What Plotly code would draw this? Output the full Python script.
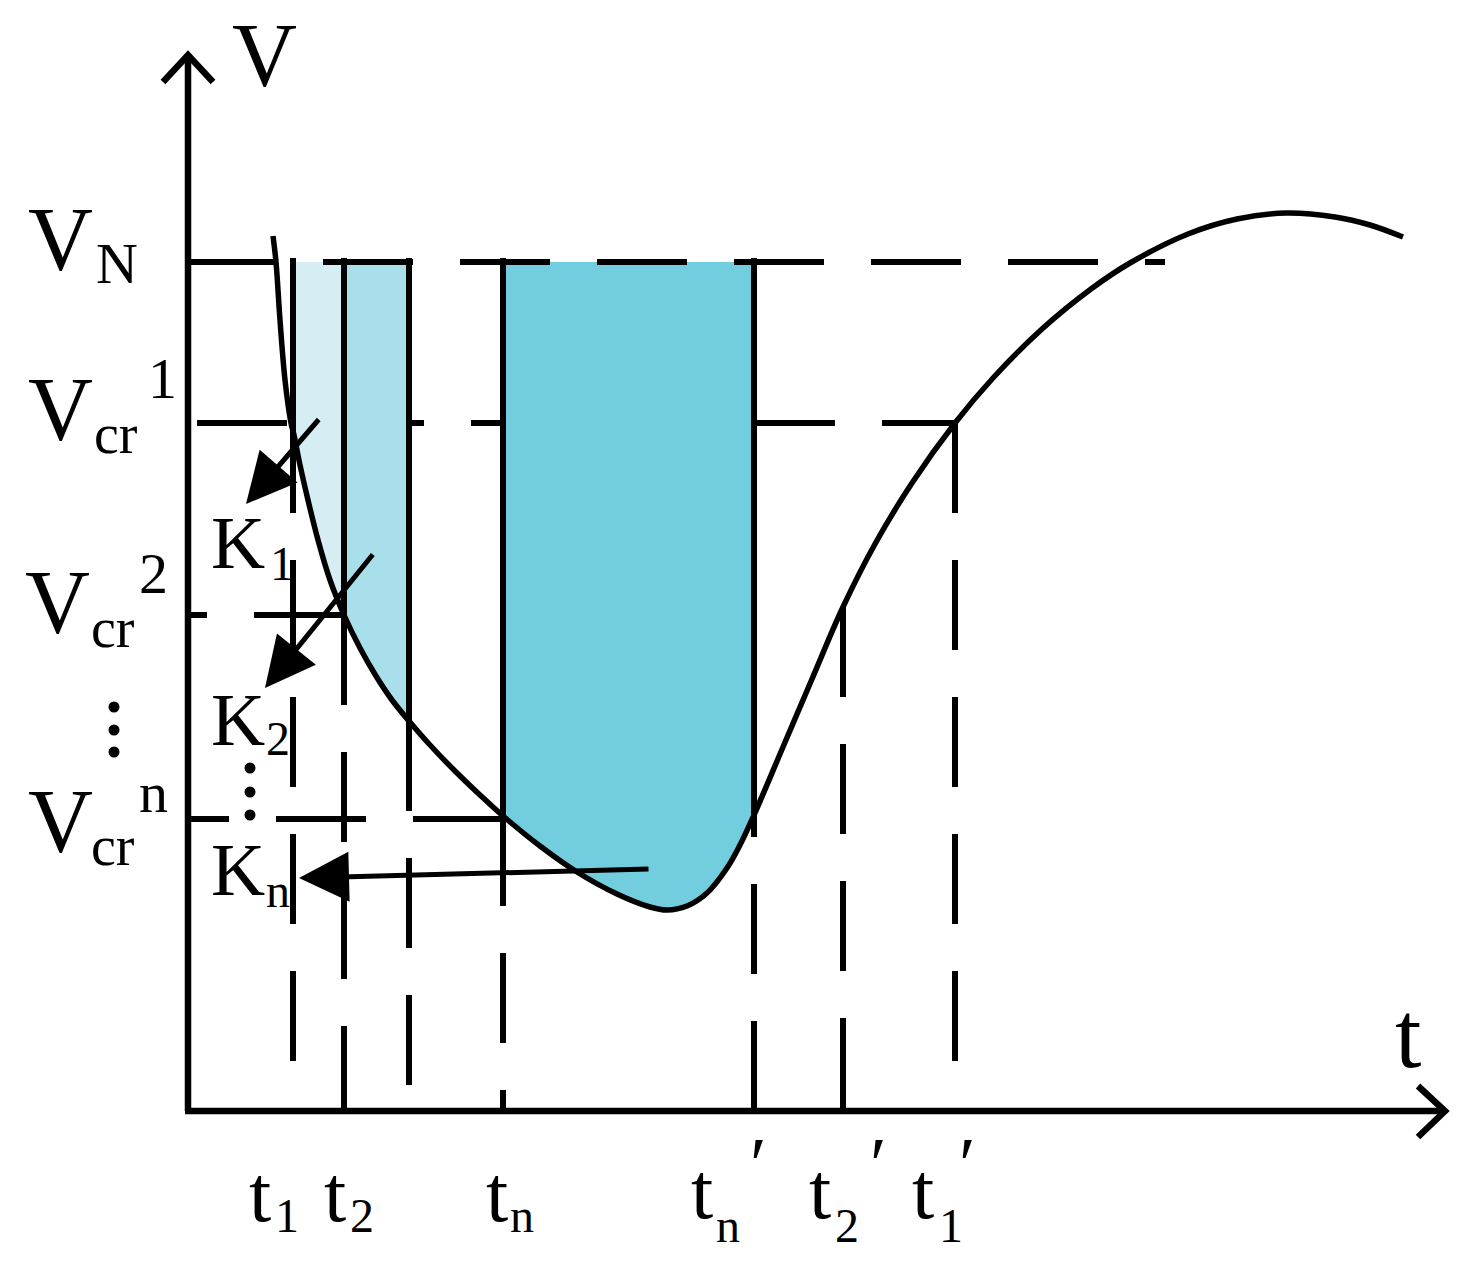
import numpy as np
import plotly.graph_objects as go

W, H = 1466, 1264

# marks on the t axis (px from left) and speed levels (px from top)
t_pos = [293, 344, 409, 503, 754, 843, 955]      # t1, t2, (t3), tn, tn', t2', t1'
v_pos = [262, 423, 615, 819]                      # VN, Vcr1, Vcr2, Vcrn
axis_x = 188       # V axis
axis_y = 1111      # t axis

# speed curve V(t)
curve_t = [273, 276, 280, 285, 291, 294, 300, 308, 318, 330, 344, 360, 376, 392,
           409, 430, 455, 480, 503, 540, 577, 617, 650, 667, 687, 707, 727, 740,
           754, 783, 812, 843, 875, 912, 955, 993, 1042, 1091, 1130, 1188, 1237,
           1286, 1335, 1370, 1403]
curve_v = [236, 262, 320, 380, 423, 435, 465, 500, 540, 580, 615, 648, 676, 700,
           721, 745, 771, 795, 816, 846, 872, 894, 907, 910, 906, 893, 868, 845,
           815, 747, 679, 607, 544, 483, 423, 378, 329, 289, 263, 234, 219,
           213, 217, 225, 237]

# shaded windows [t_start, t_end] below VN
shade_bands = [(293, 344), (344, 409), (503, 754)]
shade_colors = ["#d6eef3", "#a8dfea", "#72cddf"]

# K arrows: tail -> head
arrow_tail = [(320, 418), (374, 553), (650, 869)]
arrow_head = [(246, 504), (265, 688), (299, 878)]

DASH = "90px,47px"
FONT = "Liberation Serif"

fig = go.Figure()


def seg(x0, y0, x1, y1, dash="solid", width=6):
    fig.add_trace(go.Scatter(
        x=[x0, x1], y=[y0, y1], mode="lines",
        line=dict(color="black", width=width, dash=dash),
        hoverinfo="skip", showlegend=False))


def curve_at(t):
    return float(np.interp(t, curve_t, curve_v))


# Vcr1 level sits under the shading
seg(197, v_pos[1], t_pos[6], v_pos[1], DASH)

# shaded areas between VN and the curve
for (a, b), col in zip(shade_bands, shade_colors):
    inner = [t for t in curve_t if a < t < b]
    ts = [a] + inner + [b]
    vs = [curve_at(t) for t in ts]
    px = [a, b] + ts[::-1]
    py = [v_pos[0], v_pos[0]] + vs[::-1]
    fig.add_trace(go.Scatter(
        x=px, y=py, mode="lines", fill="toself", fillcolor=col,
        line=dict(width=0, color=col), hoverinfo="skip", showlegend=False))

# VN level, Vcr2 and Vcrn levels
seg(186, v_pos[0], 1165, v_pos[0], DASH)
seg(t_pos[1], v_pos[2], 190, v_pos[2], DASH)
seg(t_pos[3], v_pos[3], 190, v_pos[3], DASH)

# solid borders of the windows
for t in t_pos[:5]:
    seg(t, v_pos[0] - 4, t, max(curve_at(t), v_pos[1]))

# dashed drop lines to the t axis
for i, t in enumerate(t_pos):
    top = v_pos[1] if i == 0 else curve_at(t)
    if i == 4:
        seg(t, axis_y, t, top, DASH)
    else:
        seg(t, top, t, axis_y, DASH)

# speed curve
fig.add_trace(go.Scatter(
    x=curve_t, y=curve_v, mode="lines",
    line=dict(color="black", width=5.5, shape="spline", smoothing=1.0),
    hoverinfo="skip", showlegend=False))

# axes with open arrow heads
seg(axis_x, axis_y, axis_x, 54, width=6.5)
seg(axis_x - 3, axis_y, 1444, axis_y, width=6.5)
fig.add_trace(go.Scatter(
    x=[163, axis_x, 213, None, 1418, 1445, 1418],
    y=[82, 55, 82, None, 1086, axis_y, 1137],
    mode="lines", line=dict(color="black", width=6.5),
    hoverinfo="skip", showlegend=False))

# vertical ellipses
fig.add_trace(go.Scatter(
    x=[114, 114, 114, 250, 250, 250],
    y=[707, 730, 752, 768, 792, 815],
    mode="markers", marker=dict(color="black", size=11),
    hoverinfo="skip", showlegend=False))

for (fx, fy), (hx, hy) in zip(arrow_tail, arrow_head):
    fig.add_annotation(
        x=hx, y=hy, ax=fx, ay=fy, xref="x", yref="y", axref="x", ayref="y",
        text="", showarrow=True, arrowhead=2, arrowsize=2.0, arrowwidth=5,
        arrowcolor="black")


def label(x, base, s, size):
    # x: left edge, base: baseline, both in px
    fig.add_annotation(
        x=x, y=base - 0.3375 * size, xref="x", yref="y", text=s,
        showarrow=False, xanchor="left", yanchor="middle",
        font=dict(family=FONT, size=size, color="black"))


labels = [
    ("V", 230, 86, 90),
    ("V", 26, 270, 90), ("N", 94, 283, 58),
    ("V", 26, 440, 90), ("cr", 92, 453, 56), ("1", 146, 398, 58),
    ("V", 23, 633, 90), ("cr", 89, 647, 56), ("2", 137, 593, 58),
    ("V", 26, 852, 90), ("cr", 89, 865, 56), ("n", 137, 812, 58),
    ("K", 209, 568, 75), ("1", 268, 580, 48),
    ("K", 209, 745, 75), ("2", 264, 755, 48),
    ("K", 209, 895, 75), ("n", 264, 907, 48),
    ("t", 1393, 1067, 95),
    ("t", 247, 1221, 80), ("1", 273, 1232, 48),
    ("t", 322, 1221, 80), ("2", 348, 1232, 48),
    ("t", 484, 1221, 80), ("n", 508, 1232, 48),
    ("t", 689, 1218, 80), ("n", 714, 1242, 48), ("\u2032", 748, 1190, 76),
    ("t", 807, 1218, 80), ("2", 833, 1242, 48), ("\u2032", 868, 1190, 76),
    ("t", 910, 1218, 80), ("1", 937, 1242, 48), ("\u2032", 957, 1190, 76),
]
for s, x, base, size in labels:
    label(x, base, s, size)

fig.update_layout(
    width=W, height=H, margin=dict(l=0, r=0, t=0, b=0),
    paper_bgcolor="white", plot_bgcolor="white", showlegend=False,
    xaxis=dict(range=[0, W], visible=False, fixedrange=True),
    yaxis=dict(range=[H, 0], visible=False, fixedrange=True),
)

fig.write_html("out.html", config={"displayModeBar": False},
               post_script="document.body.style.margin='0';")
